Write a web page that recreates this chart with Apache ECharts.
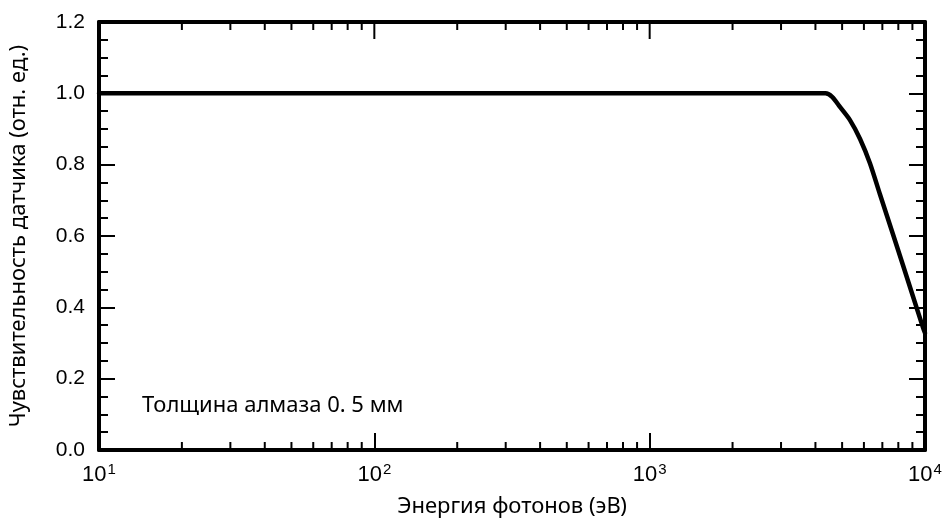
<!DOCTYPE html>
<html>
<head>
<meta charset="utf-8">
<script src="https://cdn.jsdelivr.net/npm/echarts@6/dist/echarts.min.js"></script>
<style>
html,body{margin:0;padding:0;background:#fff;}
#chart{width:951px;height:528px;}
</style>
</head>
<body>
<div id="chart"></div>
<script>
// Data
const energy = [10, 100, 1000, 4000, 4350, 4600, 4910, 5340, 5810, 6310, 6860, 7650, 8320, 9040, 9820, 10000];
const response = [1, 1, 1, 1, 1.0, 0.99, 0.962, 0.925, 0.872, 0.804, 0.717, 0.605, 0.518, 0.431, 0.345, 0.328];
const xMinorTicks = [20,30,40,50,60,70,80,90,200,300,400,500,600,700,800,900,2000,3000,4000,5000,6000,7000,8000,9000];
const xMajorTicks = [100, 1000];
const xTickExponents = {10: '1', 100: '2', 1000: '3', 10000: '4'};
const yTickLabels = ['0.0','0.2','0.4','0.6','0.8','1.0','1.2'];
const xTitle = 'Энергия фотонов (эВ)';
const yTitle = 'Чувствительность датчика (отн. ед.)';
const note = 'Толщина алмаза 0. 5 мм';

const chart = echarts.init(document.getElementById('chart'));
const axisCol = '#000';
const textFont = '"Noto Sans", sans-serif';
const numFont = '"Liberation Sans", Arial, sans-serif';

const commonX = {
  type: 'log', logBase: 10, min: 10, max: 10000,
  axisLine: {show: true, onZero: false, lineStyle: {color: axisCol, width: 4}},
  axisTick: {show: true, inside: true, length: 17, lineStyle: {color: axisCol, width: 2}},
  splitLine: {show: false},
  minorTick: {show: false}
};
const commonY = {
  type: 'value', min: 0, max: 1.2, interval: 0.2,
  axisLine: {show: true, onZero: false, lineStyle: {color: axisCol, width: 4}},
  axisTick: {show: true, inside: true, length: 16, lineStyle: {color: axisCol, width: 2}},
  minorTick: {show: true, splitNumber: 4, length: 9, lineStyle: {color: axisCol, width: 2}},
  splitLine: {show: false}
};

const curveData = energy.map(function (e, i) { return [e, response[i]]; });

chart.setOption({
  backgroundColor: '#fff',
  animation: false,
  grid: {left: 98, right: 26, top: 22, bottom: 78, containLabel: false},
  xAxis: [
    Object.assign({}, commonX, {
      position: 'bottom',
      name: xTitle, nameLocation: 'middle', nameGap: 46,
      nameTextStyle: {fontFamily: textFont, fontSize: 22, color: '#000'},
      axisLabel: {
        margin: 12,
        formatter: function (v) { return '{b|10}{s|' + xTickExponents[Math.round(v)] + '}'; },
        rich: {
          b: {fontFamily: numFont, fontSize: 22, color: '#000'},
          s: {fontFamily: numFont, fontSize: 15, color: '#000', verticalAlign: 'top', padding: [0,0,10,1]}
        }
      }
    }),
    Object.assign({}, commonX, {position: 'top', axisTick: {show: false}, axisLabel: {show: false}})
  ],
  yAxis: [
    Object.assign({}, commonY, {
      position: 'left',
      name: yTitle, nameLocation: 'middle', nameGap: 69, nameRotate: 90,
      nameTextStyle: {fontFamily: textFont, fontSize: 22, color: '#000'},
      axisLabel: {
        margin: 14,
        formatter: function (v) { return yTickLabels[Math.round(v / 0.2)]; },
        fontFamily: numFont, fontSize: 21, color: '#000'
      }
    }),
    Object.assign({}, commonY, {position: 'right', axisLabel: {show: false}})
  ],
  graphic: [{
    type: 'text', left: 142, top: 395,
    style: {text: note, fontFamily: textFont, fontSize: 22, fill: '#000'}
  }],
  series: [
    {
      type: 'custom', xAxisIndex: 0, yAxisIndex: 0, silent: true,
      data: xMinorTicks.map(function (v) { return [v, 0]; }),
      renderItem: function (params, api) {
        const b = api.coord([api.value(0), 0]);
        const t = api.coord([api.value(0), 1.2]);
        const st = {stroke: axisCol, lineWidth: 2};
        return {type: 'group', children: [
          {type: 'line', shape: {x1: b[0], y1: b[1], x2: b[0], y2: b[1] - 8}, style: st},
          {type: 'line', shape: {x1: t[0], y1: t[1], x2: t[0], y2: t[1] + 8}, style: st}
        ]};
      },
      z: 3
    },
    {
      type: 'custom', xAxisIndex: 0, yAxisIndex: 0, silent: true,
      data: xMajorTicks.map(function (v) { return [v, 0]; }),
      renderItem: function (params, api) {
        const t = api.coord([api.value(0), 1.2]);
        return {type: 'line', shape: {x1: t[0], y1: t[1], x2: t[0], y2: t[1] + 17},
                style: {stroke: axisCol, lineWidth: 2}};
      },
      z: 3
    },
    {
      type: 'line', xAxisIndex: 0, yAxisIndex: 0,
      data: curveData,
      showSymbol: false, symbol: 'none',
      smooth: 0.25,
      lineStyle: {color: '#000', width: 4.5, join: 'round', cap: 'round'},
      clip: false, z: 4
    }
  ]
});
</script>
</body>
</html>
